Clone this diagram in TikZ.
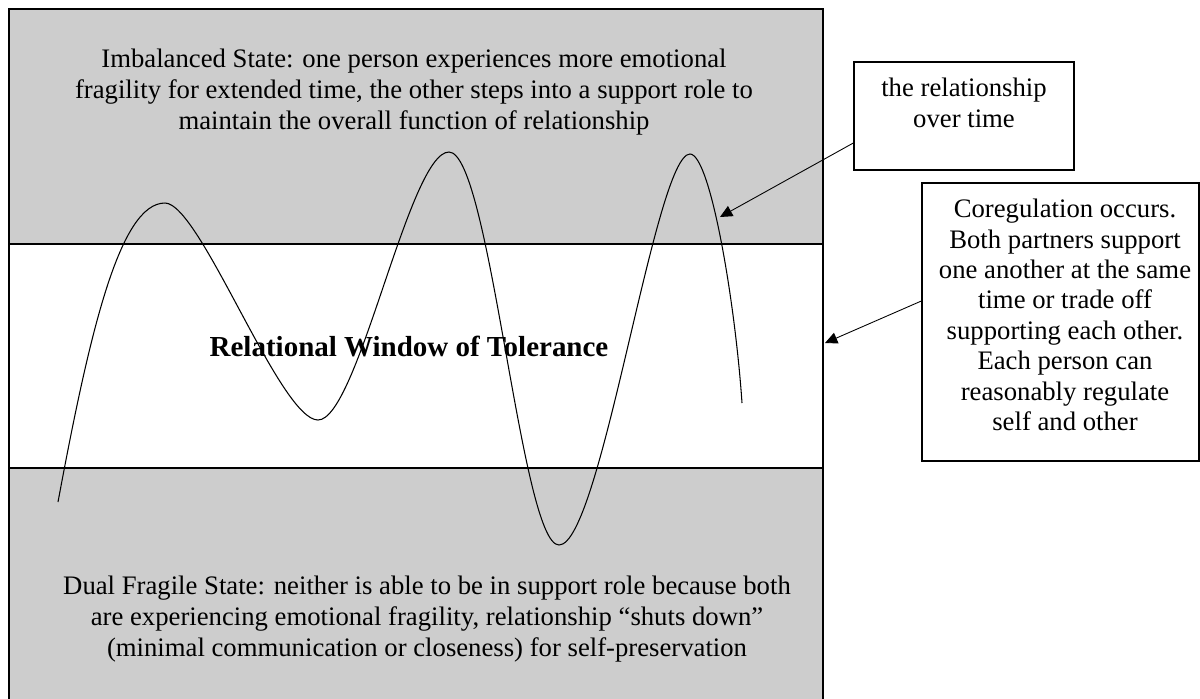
\documentclass[tikz,border=0pt]{standalone}
\usepackage{fontspec}
\setmainfont{Liberation Serif}
\usetikzlibrary{arrows.meta}
\definecolor{bandgray}{RGB}{205,205,205}
\begin{document}
\begin{tikzpicture}[x=0.02cm,y=-0.02cm,
  txt/.style={font=\fontsize{15.2}{17.6}\selectfont, align=center, inner sep=0pt},
  boldtxt/.style={font=\bfseries\fontsize{16.5}{17.6}\selectfont, align=center, inner sep=0pt},
  callout/.style={draw, line width=0.8pt, fill=white, inner sep=0pt},
  pointer/.style={-{Triangle[length=7pt,width=6.5pt]}, line width=0.5pt},
  wave/.style={line width=0.6pt},
  band/.style={fill=bandgray, draw, line width=1.1pt},
  window/.style={fill=white, draw, line width=1.1pt}]
\useasboundingbox (0,0) rectangle (1200,698);
% bands
\path[band] (9,9) rectangle (823,244);
\path[window] (9,244) rectangle (823,468);
\path[band] (9,468) rectangle (823,730);
% texts
\node[txt] (imb) at (414,92) {Imbalanced State: one person experiences more emotional\\fragility for extended time, the other steps into a support role to\\maintain the overall function of relationship};
\node[boldtxt] (win) at (409,346) {Relational Window of Tolerance};
\node[txt] (dual) at (427,619) {Dual Fragile State: neither is able to be in support role because both\\are experiencing emotional fragility, relationship “shuts down”\\(minimal communication or closeness) for self-preservation};
% curve
\draw[wave] (58,502) .. controls (90,330) and (120,203) .. (165,203)
 .. controls (200,203) and (280,420) .. (318,420)
 .. controls (358,420) and (409,152) .. (449,152)
 .. controls (490,152) and (521,545) .. (559,545)
 .. controls (601,545) and (655,154) .. (690,154)
 .. controls (710,154) and (735,300) .. (742,403);
% callouts
\node[callout, minimum width=4.4cm, minimum height=2.16cm] (rel) at (964,116) {};
\node[txt] (reltxt) at (964,103) {the relationship\\over time};
\node[callout, minimum width=5.54cm, minimum height=5.56cm] (cor) at (1060.5,322) {};
\node[txt, font=\fontsize{15.2}{17.3}\selectfont] (cortxt) at (1065,315) {Coregulation occurs.\\Both partners support\\one another at the same\\time or trade off\\supporting each other.\\Each person can\\reasonably regulate\\self and other};
% pointers
\coordinate (tip1) at (720,217);
\coordinate (tip2) at (825,343);
\draw[pointer] ([yshift=-0.54cm]rel.west) -- (tip1);
\draw[pointer] ([yshift=0.42cm]cor.west) -- (tip2);
\end{tikzpicture}
\end{document}
